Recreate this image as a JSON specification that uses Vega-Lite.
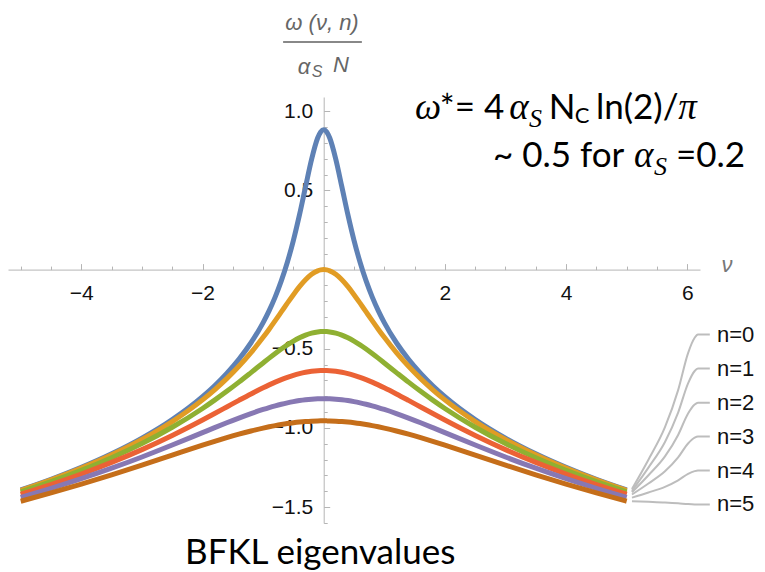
{
  "$schema": "https://vega.github.io/schema/vega-lite/v6.json",
  "autosize": "none",
  "width": 692,
  "height": 426,
  "padding": {"left": 8, "top": 97, "right": 65, "bottom": 49},
  "background": "white",
  "config": {"view": {"stroke": null}},
  "datasets": {
    "curves": [
      {"x": -5, "n0": -1.391, "n1": -1.3942, "n2": -1.4036, "n3": -1.4187, "n4": -1.4386, "n5": -1.4626},
      {"x": -4.5, "n0": -1.3237, "n1": -1.3276, "n2": -1.3392, "n3": -1.3576, "n4": -1.3816, "n5": -1.4101},
      {"x": -4, "n0": -1.2483, "n1": -1.2534, "n2": -1.2679, "n3": -1.2908, "n4": -1.3203, "n5": -1.3545},
      {"x": -3.5, "n0": -1.1628, "n1": -1.1694, "n2": -1.1883, "n3": -1.2174, "n4": -1.2541, "n5": -1.2958},
      {"x": -3, "n0": -1.0639, "n1": -1.0728, "n2": -1.0983, "n3": -1.1365, "n4": -1.1832, "n5": -1.2344},
      {"x": -2.5, "n0": -0.9464, "n1": -0.9594, "n2": -0.9954, "n3": -1.0472, "n4": -1.1077, "n5": -1.1715},
      {"x": -2, "n0": -0.8018, "n1": -0.8224, "n2": -0.8767, "n3": -0.9497, "n4": -1.0294, "n5": -1.1089},
      {"x": -1.8, "n0": -0.7329, "n1": -0.7587, "n2": -0.8241, "n3": -0.9088, "n4": -0.9981, "n5": -1.0847},
      {"x": -1.6, "n0": -0.6554, "n1": -0.6885, "n2": -0.7687, "n3": -0.8673, "n4": -0.9672, "n5": -1.0614},
      {"x": -1.4, "n0": -0.5664, "n1": -0.6106, "n2": -0.7105, "n3": -0.8257, "n4": -0.9373, "n5": -1.0393},
      {"x": -1.2, "n0": -0.4618, "n1": -0.524, "n2": -0.6502, "n3": -0.7849, "n4": -0.909, "n5": -1.019},
      {"x": -1, "n0": -0.3345, "n1": -0.4277, "n2": -0.5892, "n3": -0.746, "n4": -0.883, "n5": -1.0007},
      {"x": -0.9, "n0": -0.2587, "n1": -0.376, "n2": -0.559, "n3": -0.7278, "n4": -0.8711, "n5": -0.9925},
      {"x": -0.8, "n0": -0.172, "n1": -0.3223, "n2": -0.5297, "n3": -0.7105, "n4": -0.8601, "n5": -0.9849},
      {"x": -0.7, "n0": -0.0714, "n1": -0.2673, "n2": -0.5016, "n3": -0.6946, "n4": -0.8501, "n5": -0.9781},
      {"x": -0.6, "n0": 0.0465, "n1": -0.212, "n2": -0.4753, "n3": -0.6801, "n4": -0.8412, "n5": -0.9721},
      {"x": -0.5, "n0": 0.1852, "n1": -0.1581, "n2": -0.4514, "n3": -0.6674, "n4": -0.8334, "n5": -0.967},
      {"x": -0.4, "n0": 0.3457, "n1": -0.1078, "n2": -0.4307, "n3": -0.6566, "n4": -0.8269, "n5": -0.9627},
      {"x": -0.3, "n0": 0.5225, "n1": -0.064, "n2": -0.4137, "n3": -0.648, "n4": -0.8218, "n5": -0.9593},
      {"x": -0.2, "n0": 0.6965, "n1": -0.0296, "n2": -0.4011, "n3": -0.6417, "n4": -0.8181, "n5": -0.9569},
      {"x": -0.1, "n0": 0.8309, "n1": -0.0076, "n2": -0.3933, "n3": -0.6379, "n4": -0.8159, "n5": -0.9554},
      {"x": -0.05, "n0": 0.8693, "n1": -0.0019, "n2": -0.3914, "n3": -0.6369, "n4": -0.8153, "n5": -0.9551},
      {"x": 0, "n0": 0.8825, "n1": 0, "n2": -0.3907, "n3": -0.6366, "n4": -0.8151, "n5": -0.9549},
      {"x": 0.05, "n0": 0.8693, "n1": -0.0019, "n2": -0.3914, "n3": -0.6369, "n4": -0.8153, "n5": -0.9551},
      {"x": 0.1, "n0": 0.8309, "n1": -0.0076, "n2": -0.3933, "n3": -0.6379, "n4": -0.8159, "n5": -0.9554},
      {"x": 0.2, "n0": 0.6965, "n1": -0.0296, "n2": -0.4011, "n3": -0.6417, "n4": -0.8181, "n5": -0.9569},
      {"x": 0.3, "n0": 0.5225, "n1": -0.064, "n2": -0.4137, "n3": -0.648, "n4": -0.8218, "n5": -0.9593},
      {"x": 0.4, "n0": 0.3457, "n1": -0.1078, "n2": -0.4307, "n3": -0.6566, "n4": -0.8269, "n5": -0.9627},
      {"x": 0.5, "n0": 0.1852, "n1": -0.1581, "n2": -0.4514, "n3": -0.6674, "n4": -0.8334, "n5": -0.967},
      {"x": 0.6, "n0": 0.0465, "n1": -0.212, "n2": -0.4753, "n3": -0.6801, "n4": -0.8412, "n5": -0.9721},
      {"x": 0.7, "n0": -0.0714, "n1": -0.2673, "n2": -0.5016, "n3": -0.6946, "n4": -0.8501, "n5": -0.9781},
      {"x": 0.8, "n0": -0.172, "n1": -0.3223, "n2": -0.5297, "n3": -0.7105, "n4": -0.8601, "n5": -0.9849},
      {"x": 0.9, "n0": -0.2587, "n1": -0.376, "n2": -0.559, "n3": -0.7278, "n4": -0.8711, "n5": -0.9925},
      {"x": 1, "n0": -0.3345, "n1": -0.4277, "n2": -0.5892, "n3": -0.746, "n4": -0.883, "n5": -1.0007},
      {"x": 1.2, "n0": -0.4618, "n1": -0.524, "n2": -0.6502, "n3": -0.7849, "n4": -0.909, "n5": -1.019},
      {"x": 1.4, "n0": -0.5664, "n1": -0.6106, "n2": -0.7105, "n3": -0.8257, "n4": -0.9373, "n5": -1.0393},
      {"x": 1.6, "n0": -0.6554, "n1": -0.6885, "n2": -0.7687, "n3": -0.8673, "n4": -0.9672, "n5": -1.0614},
      {"x": 1.8, "n0": -0.7329, "n1": -0.7587, "n2": -0.8241, "n3": -0.9088, "n4": -0.9981, "n5": -1.0847},
      {"x": 2, "n0": -0.8018, "n1": -0.8224, "n2": -0.8767, "n3": -0.9497, "n4": -1.0294, "n5": -1.1089},
      {"x": 2.5, "n0": -0.9464, "n1": -0.9594, "n2": -0.9954, "n3": -1.0472, "n4": -1.1077, "n5": -1.1715},
      {"x": 3, "n0": -1.0639, "n1": -1.0728, "n2": -1.0983, "n3": -1.1365, "n4": -1.1832, "n5": -1.2344},
      {"x": 3.5, "n0": -1.1628, "n1": -1.1694, "n2": -1.1883, "n3": -1.2174, "n4": -1.2541, "n5": -1.2958},
      {"x": 4, "n0": -1.2483, "n1": -1.2534, "n2": -1.2679, "n3": -1.2908, "n4": -1.3203, "n5": -1.3545},
      {"x": 4.5, "n0": -1.3237, "n1": -1.3276, "n2": -1.3392, "n3": -1.3576, "n4": -1.3816, "n5": -1.4101},
      {"x": 5, "n0": -1.391, "n1": -1.3942, "n2": -1.4036, "n3": -1.4187, "n4": -1.4386, "n5": -1.4626}
    ],
    "callouts": [
      {"n": "n0", "x": 5.087, "y": -1.385}, {"n": "n0", "x": 5.359, "y": -1.2}, {"n": "n0", "x": 5.632, "y": -0.995}, {"n": "n0", "x": 5.849, "y": -0.761}, {"n": "n0", "x": 6.013, "y": -0.527}, {"n": "n0", "x": 6.122, "y": -0.43}, {"n": "n0", "x": 6.176, "y": -0.41}, {"n": "n0", "x": 6.372, "y": -0.41},
      {"n": "n1", "x": 5.087, "y": -1.397}, {"n": "n1", "x": 5.359, "y": -1.25}, {"n": "n1", "x": 5.632, "y": -1.088}, {"n": "n1", "x": 5.849, "y": -0.903}, {"n": "n1", "x": 6.013, "y": -0.718}, {"n": "n1", "x": 6.122, "y": -0.64}, {"n": "n1", "x": 6.176, "y": -0.625}, {"n": "n1", "x": 6.372, "y": -0.625},
      {"n": "n2", "x": 5.087, "y": -1.406}, {"n": "n2", "x": 5.359, "y": -1.2985}, {"n": "n2", "x": 5.632, "y": -1.1796}, {"n": "n2", "x": 5.849, "y": -1.0438}, {"n": "n2", "x": 6.013, "y": -0.9079}, {"n": "n2", "x": 6.122, "y": -0.8513}, {"n": "n2", "x": 6.176, "y": -0.84}, {"n": "n2", "x": 6.372, "y": -0.84},
      {"n": "n3", "x": 5.087, "y": -1.42}, {"n": "n3", "x": 5.359, "y": -1.3505}, {"n": "n3", "x": 5.632, "y": -1.2736}, {"n": "n3", "x": 5.849, "y": -1.1858}, {"n": "n3", "x": 6.013, "y": -1.0979}, {"n": "n3", "x": 6.122, "y": -1.0613}, {"n": "n3", "x": 6.176, "y": -1.054}, {"n": "n3", "x": 6.372, "y": -1.054},
      {"n": "n4", "x": 5.087, "y": -1.44}, {"n": "n4", "x": 5.359, "y": -1.4075}, {"n": "n4", "x": 5.632, "y": -1.3716}, {"n": "n4", "x": 5.849, "y": -1.3306}, {"n": "n4", "x": 6.013, "y": -1.2895}, {"n": "n4", "x": 6.122, "y": -1.2724}, {"n": "n4", "x": 6.176, "y": -1.269}, {"n": "n4", "x": 6.372, "y": -1.269},
      {"n": "n5", "x": 5.087, "y": -1.462}, {"n": "n5", "x": 5.359, "y": -1.466}, {"n": "n5", "x": 5.632, "y": -1.4704}, {"n": "n5", "x": 5.849, "y": -1.4754}, {"n": "n5", "x": 6.013, "y": -1.4805}, {"n": "n5", "x": 6.122, "y": -1.4826}, {"n": "n5", "x": 6.176, "y": -1.483}, {"n": "n5", "x": 6.372, "y": -1.483}
    ]
  },
  "encoding": {
    "x": {
      "field": "x", "type": "quantitative",
      "scale": {"domain": [-5.21, 6.21], "nice": false, "zero": false},
      "axis": {
        "orient": "bottom", "offset": -253.4, "title": null, "grid": false,
        "values": [-5, -4.5, -4, -3.5, -3, -2.5, -2, -1.5, -1, -0.5, 0, 0.5, 1, 1.5, 2, 2.5, 3, 3.5, 4, 4.5, 5, 5.5, 6],
        "labelExpr": "(datum.value % 2 == 0 && datum.value != 0) ? format(datum.value, 'd') : ''",
        "tickSize": {"condition": {"test": "datum.value % 2 == 0", "value": -6}, "value": -3.5},
        "tickColor": "#b5b5b5", "domainColor": "#b5b5b5", "tickWidth": 1, "domainWidth": 1,
        "labelFont": "Liberation Sans", "labelFontSize": 21, "labelColor": "#111111",
        "labelPadding": 19, "labelFlush": false, "labelOverlap": false, "labelBound": false
      }
    },
    "y": {
      "field": "y", "type": "quantitative",
      "scale": {"domain": [-1.6, 1.09], "nice": false, "zero": false},
      "axis": {
        "orient": "left", "offset": -315.7, "title": null, "grid": false,
        "values": [-1.6, -1.5, -1.4, -1.3, -1.2, -1.1, -1, -0.9, -0.8, -0.7, -0.6, -0.5, -0.4, -0.3, -0.2, -0.1, 0, 0.1, 0.2, 0.3, 0.4, 0.5, 0.6, 0.7, 0.8, 0.9, 1],
        "labelExpr": "(abs(round(datum.value*10)) % 5 == 0 && round(datum.value*10) != 0) ? format(datum.value, '.1f') : ''",
        "tickSize": {"condition": {"test": "abs(round(datum.value*10)) % 5 == 0", "value": -6}, "value": -3.5},
        "tickColor": "#b5b5b5", "domainColor": "#b5b5b5", "tickWidth": 1, "domainWidth": 1,
        "labelFont": "Liberation Sans", "labelFontSize": 21, "labelColor": "#111111",
        "labelPadding": 17, "labelFlush": false, "labelOverlap": false, "labelBound": false
      }
    }
  },
  "layer": [
    {
      "data": {"name": "curves"},
      "transform": [{"fold": ["n0", "n1", "n2", "n3", "n4", "n5"], "as": ["n", "y"]}],
      "mark": {"type": "line", "interpolate": "monotone", "strokeWidth": 5, "strokeCap": "butt"},
      "encoding": {
        "color": {
          "field": "n", "type": "nominal", "legend": null,
          "scale": {"domain": ["n0", "n1", "n2", "n3", "n4", "n5"], "range": ["#5E81B5", "#E19C24", "#8FB032", "#EB6235", "#8778B3", "#C56E1A"]}
        }
      }
    },
    {
      "data": {"name": "callouts"},
      "mark": {"type": "line", "interpolate": "monotone", "strokeWidth": 2, "color": "#bdbdbd"},
      "encoding": {"detail": {"field": "n"}}
    },
    {
      "data": {"values": [
        {"t": "n=0", "x": 6.49, "y": -0.41}, {"t": "n=1", "x": 6.49, "y": -0.625}, {"t": "n=2", "x": 6.49, "y": -0.84},
        {"t": "n=3", "x": 6.49, "y": -1.054}, {"t": "n=4", "x": 6.49, "y": -1.269}, {"t": "n=5", "x": 6.49, "y": -1.483}
      ]},
      "mark": {"type": "text", "align": "left", "baseline": "middle", "font": "Liberation Sans", "fontSize": 22, "color": "#111111"},
      "encoding": {"text": {"field": "t"}}
    },
    {
      "data": {"values": [{"t": "ν", "x": 6.655, "y": 0.03}]},
      "mark": {"type": "text", "align": "center", "baseline": "middle", "font": "Liberation Sans", "fontStyle": "italic", "fontSize": 22, "color": "#777777"},
      "encoding": {"text": {"field": "t"}}
    },
    {
      "data": {"values": [{"t": "ω (ν, n)", "x": -0.028, "y": 1.557}, {"t": "α", "x": -0.326, "y": 1.279}, {"t": "N", "x": 0.285, "y": 1.292}]},
      "mark": {"type": "text", "align": "center", "baseline": "middle", "font": "Liberation Sans", "fontStyle": "italic", "fontSize": 22, "color": "#666666"},
      "encoding": {"text": {"field": "t"}}
    },
    {
      "data": {"values": [{"t": "S", "x": -0.111, "y": 1.245}]},
      "mark": {"type": "text", "align": "center", "baseline": "middle", "font": "Liberation Sans", "fontStyle": "italic", "fontSize": 16, "color": "#666666"},
      "encoding": {"text": {"field": "t"}}
    },
    {
      "data": {"values": [{"x": -0.67, "x2": 0.63, "y": 1.437}]},
      "mark": {"type": "rule", "color": "#888888", "strokeWidth": 2},
      "encoding": {"x2": {"field": "x2"}}
    },
    {
      "data": {"values": [
        {"t": "*= 4", "x": 1.916, "y": 0.949}, {"t": "N", "x": 3.713, "y": 0.949}, {"t": "ln(2)/", "x": 4.492, "y": 0.949},
        {"t": "~ 0.5 for", "x": 2.794, "y": 0.646}, {"t": "=0.2", "x": 5.814, "y": 0.646}
      ]},
      "mark": {"type": "text", "align": "left", "baseline": "alphabetic", "font": "Lato", "fontSize": 35, "color": "#000000"},
      "encoding": {"text": {"field": "t"}}
    },
    {
      "data": {"values": [{"t": "C", "x": 4.141, "y": 0.925}]},
      "mark": {"type": "text", "align": "left", "baseline": "alphabetic", "font": "Lato", "fontSize": 22, "color": "#000000"},
      "encoding": {"text": {"field": "t"}}
    },
    {
      "data": {"values": [
        {"t": "ω", "x": 1.507, "y": 0.949}, {"t": "α", "x": 3.063, "y": 0.949}, {"t": "π", "x": 5.85, "y": 0.949}, {"t": "α", "x": 5.121, "y": 0.646}
      ]},
      "mark": {"type": "text", "align": "left", "baseline": "alphabetic", "font": "Liberation Serif", "fontStyle": "italic", "fontSize": 37, "color": "#000000"},
      "encoding": {"text": {"field": "t"}}
    },
    {
      "data": {"values": [{"t": "S", "x": 3.386, "y": 0.899}, {"t": "S", "x": 5.451, "y": 0.596}]},
      "mark": {"type": "text", "align": "left", "baseline": "alphabetic", "font": "Liberation Serif", "fontStyle": "italic", "fontSize": 26, "color": "#000000"},
      "encoding": {"text": {"field": "t"}}
    },
    {
      "data": {"values": [{"t": "BFKL eigenvalues", "x": -2.289, "y": -1.858}]},
      "mark": {"type": "text", "align": "left", "baseline": "alphabetic", "font": "Lato", "fontSize": 35, "color": "#000000"},
      "encoding": {"text": {"field": "t"}}
    }
  ]
}
